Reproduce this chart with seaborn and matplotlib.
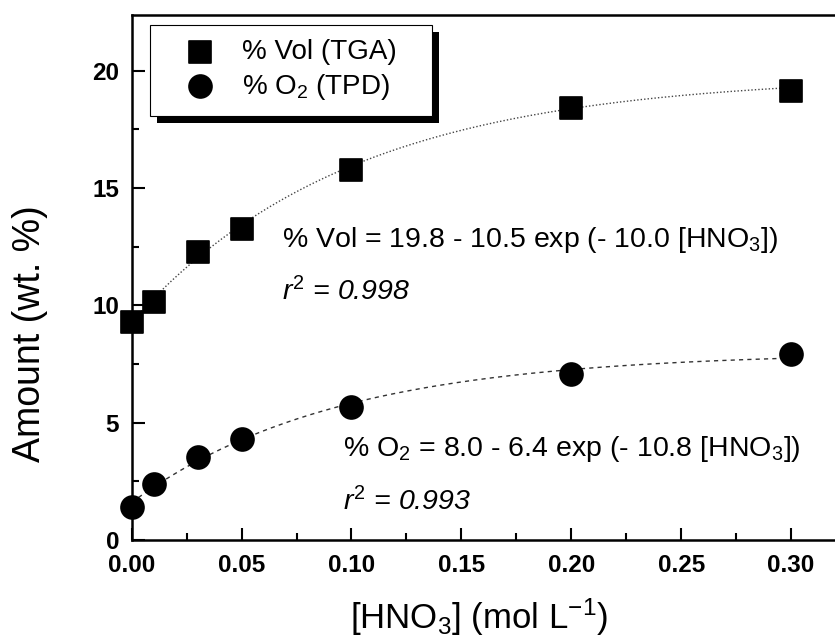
import numpy as np
import matplotlib
matplotlib.use('Agg')
import matplotlib.pyplot as plt
from matplotlib.patches import Rectangle
from matplotlib.ticker import MultipleLocator, FormatStrFormatter
import seaborn as sns

# measured points
hno3 = [0.00, 0.01, 0.03, 0.05, 0.10, 0.20, 0.30]
vol_tga = [9.3, 10.15, 12.25, 13.25, 15.75, 18.4, 19.15]
o2_tpd = [1.42, 2.37, 3.55, 4.29, 5.68, 7.06, 7.91]

# fit parameters as printed on the chart: y = a - b exp(-k [HNO3])
vol_fit = (19.8, 10.5, 10.0)
o2_fit = (8.0, 6.4, 10.8)


def fit_curve(params, x):
    a, b, k = params
    return a - b * np.exp(-k * x)


def main():
    sns.set_theme(style='ticks')
    plt.rcParams['font.family'] = ['Liberation Sans', 'DejaVu Sans']
    plt.rcParams['mathtext.fontset'] = 'custom'
    plt.rcParams['mathtext.rm'] = 'Liberation Sans'
    plt.rcParams['mathtext.it'] = 'Liberation Sans:italic'
    plt.rcParams['mathtext.bf'] = 'Liberation Sans:bold'
    for key in ['text.color', 'axes.labelcolor', 'xtick.color', 'ytick.color',
                'axes.edgecolor']:
        plt.rcParams[key] = 'black'

    fig = plt.figure(figsize=(8.35, 6.43), dpi=100)
    ax = fig.add_axes([0.1577, 0.1602, 0.8423, 0.8165])

    xs = np.linspace(0, 0.30, 200)
    sns.lineplot(x=xs, y=fit_curve(vol_fit, xs), ax=ax, color='#444444',
                 linestyle=(0, (1, 1.5)), linewidth=1.0)
    sns.lineplot(x=xs, y=fit_curve(o2_fit, xs), ax=ax, color='#333333',
                 linestyle=(0, (3, 3)), linewidth=1.0)

    sns.scatterplot(x=hno3, y=vol_tga, ax=ax, marker='s', s=230, color='black',
                    edgecolor='black', label='% Vol (TGA)', zorder=3, clip_on=False)
    sns.scatterplot(x=hno3, y=o2_tpd, ax=ax, marker='o', s=270, color='black',
                    edgecolor='black', label='% O$_2$ (TPD)', zorder=3, clip_on=False)

    ax.set_xlim(0, 0.32)
    ax.set_ylim(0, 22.37)
    ax.xaxis.set_major_locator(MultipleLocator(0.05))
    ax.xaxis.set_minor_locator(MultipleLocator(0.025))
    ax.yaxis.set_major_locator(MultipleLocator(5))
    ax.yaxis.set_minor_locator(MultipleLocator(2.5))
    ax.xaxis.set_major_formatter(FormatStrFormatter('%.2f'))
    ax.tick_params(which='both', direction='in', width=1.5, top=False, right=False)
    ax.tick_params(which='major', length=9, labelsize=17.5)
    ax.tick_params(axis='x', which='major', pad=10)
    ax.tick_params(axis='y', which='major', pad=9)
    ax.tick_params(which='minor', length=5)
    for lab in ax.get_xticklabels() + ax.get_yticklabels():
        lab.set_fontweight('bold')

    for side in ['left', 'bottom', 'top']:
        ax.spines[side].set_linewidth(1.8)
    ax.spines['right'].set_visible(False)

    ax.set_xlabel('[HNO$_3$] (mol L$^{-1}$)', fontsize=25, va='top')
    ax.set_ylabel('Amount (wt. %)', fontsize=27)
    ax.xaxis.set_label_coords(0.494, -0.107)
    ax.yaxis.set_label_coords(-0.119, 0.393)

    ax.text(0.0685, 12.5, '% Vol = 19.8 - 10.5 exp (- 10.0 [HNO$_3$])', fontsize=20.5)
    ax.text(0.0685, 10.23, '$r^2$ = 0.998', fontsize=20.5, style='italic')
    ax.text(0.0962, 3.58, '% O$_2$ = 8.0 - 6.4 exp (- 10.8 [HNO$_3$])', fontsize=20.5)
    ax.text(0.0962, 1.28, '$r^2$ = 0.993', fontsize=20.5, style='italic')

    leg = ax.legend(loc='upper left', bbox_to_anchor=(0.026, 0.981, 0.401, 0.0),
                    mode='expand', borderaxespad=0,
                    fontsize=20, frameon=True, fancybox=False, framealpha=1,
                    edgecolor='black', handletextpad=0.21, borderpad=0.5,
                    labelspacing=0.25, handlelength=2.6)
    leg.get_frame().set_linewidth(0.8)
    leg.set_zorder(6)

    fig.canvas.draw()
    bb = leg.get_window_extent().transformed(fig.transFigure.inverted())
    dx = 7 / fig.bbox.width
    dy = 7 / fig.bbox.height
    shadow = Rectangle((bb.x0 + dx, bb.y0 - dy), bb.width, bb.height,
                       transform=fig.transFigure, facecolor='black',
                       edgecolor='none', zorder=5.5, clip_on=False)
    ax.add_artist(shadow)

    fig.savefig('out.png', dpi=100)
    plt.close(fig)


if __name__ == '__main__':
    main()
